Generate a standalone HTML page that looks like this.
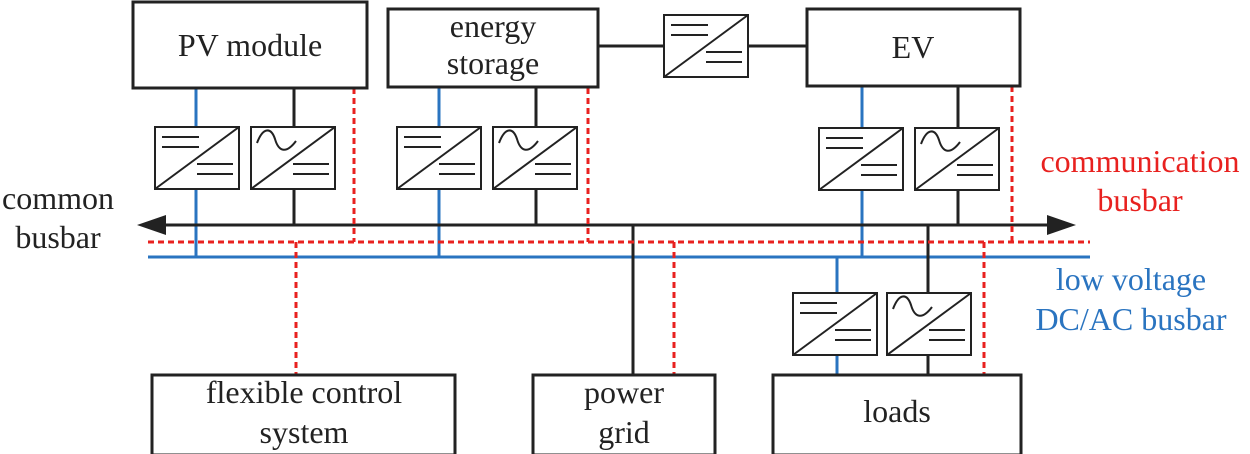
<!DOCTYPE html>
<html><head><meta charset="utf-8"><style>
html,body{margin:0;padding:0;background:#fff;}
svg{display:block;}
text{font-family:"Liberation Serif","Times New Roman",serif;font-size:32px;}
</style></head><body>
<svg width="1250" height="454" viewBox="0 0 1250 454" xmlns="http://www.w3.org/2000/svg">
<defs>
<g id="dc">
<rect x="0" y="0" width="84" height="62" fill="#fff" stroke="#222" stroke-width="2"/>
<line x1="0" y1="62" x2="84" y2="0" stroke="#222" stroke-width="2"/>
<line x1="7" y1="10" x2="44" y2="10" stroke="#222" stroke-width="2"/>
<line x1="7" y1="20" x2="44" y2="20" stroke="#222" stroke-width="2"/>
<line x1="42" y1="37" x2="78" y2="37" stroke="#222" stroke-width="2"/>
<line x1="42" y1="47" x2="78" y2="47" stroke="#222" stroke-width="2"/>
</g>
<g id="ac">
<rect x="0" y="0" width="84" height="62" fill="#fff" stroke="#222" stroke-width="2"/>
<line x1="0" y1="62" x2="84" y2="0" stroke="#222" stroke-width="2"/>
<path d="M6 16 C12 0,20 0,24 12 C28 26,36 26,45 14" fill="none" stroke="#222" stroke-width="2"/>
<line x1="42" y1="37" x2="78" y2="37" stroke="#222" stroke-width="2"/>
<line x1="42" y1="47" x2="78" y2="47" stroke="#222" stroke-width="2"/>
</g>
</defs>
<g stroke-width="3" fill="none">
<g stroke="#2a74c0">
<line x1="196" y1="88" x2="196" y2="257"/>
<line x1="439" y1="88" x2="439" y2="257"/>
<line x1="862" y1="86" x2="862" y2="257"/>
<line x1="837" y1="257" x2="837" y2="375"/>
<line x1="148" y1="257" x2="1090" y2="257"/>
</g>
<g stroke="#222">
<line x1="294" y1="88" x2="294" y2="225"/>
<line x1="536" y1="88" x2="536" y2="225"/>
<line x1="958" y1="86" x2="958" y2="225"/>
<line x1="928" y1="225" x2="928" y2="375"/>
<line x1="633" y1="225" x2="633" y2="375"/>
<line x1="160" y1="225" x2="1058" y2="225"/>
<line x1="598" y1="46" x2="664" y2="46"/>
<line x1="748" y1="46" x2="807" y2="46"/>
</g>
<g stroke="#e8211f" stroke-dasharray="6,4">
<line x1="354" y1="88" x2="354" y2="242"/>
<line x1="588" y1="88" x2="588" y2="242"/>
<line x1="1012" y1="86" x2="1012" y2="242"/>
<line x1="296" y1="242" x2="296" y2="375"/>
<line x1="674" y1="242" x2="674" y2="375"/>
<line x1="984" y1="242" x2="984" y2="375"/>
<line x1="148" y1="242" x2="1090" y2="242"/>
</g>
</g>
<polygon points="137,225 166,215 166,235" fill="#222"/>
<polygon points="1076,225 1047,215 1047,235" fill="#222"/>
<g fill="#fff" stroke="#222" stroke-width="3">
<rect x="133" y="2" width="234" height="86"/>
<rect x="388" y="9" width="210" height="78"/>
<rect x="807" y="9" width="213" height="77"/>
<rect x="152" y="375" width="303" height="80"/>
<rect x="533" y="375" width="182" height="80"/>
<rect x="773" y="375" width="248" height="80"/>
</g>
<use href="#dc" x="664" y="15"/>
<use href="#dc" x="155" y="127"/>
<use href="#ac" x="251" y="127"/>
<use href="#dc" x="397" y="127"/>
<use href="#ac" x="493" y="127"/>
<use href="#dc" x="819" y="128"/>
<use href="#ac" x="915" y="128"/>
<use href="#dc" x="793" y="293"/>
<use href="#ac" x="887" y="293"/>
<g fill="#222" text-anchor="middle">
<text x="250" y="56">PV module</text>
<text x="493" y="37">energy</text>
<text x="493" y="74">storage</text>
<text x="913" y="58">EV</text>
<text x="304" y="403">flexible control</text>
<text x="304" y="443">system</text>
<text x="624" y="403">power</text>
<text x="624" y="443">grid</text>
<text x="897" y="422">loads</text>
<text x="58" y="209">common</text>
<text x="58" y="248">busbar</text>
</g>
<g fill="#e8211f" text-anchor="middle">
<text x="1140" y="172">communication</text>
<text x="1140" y="211">busbar</text>
</g>
<g fill="#2a74c0" text-anchor="middle">
<text x="1131" y="290">low voltage</text>
<text x="1131" y="330">DC/AC busbar</text>
</g>
</svg>
</body></html>
